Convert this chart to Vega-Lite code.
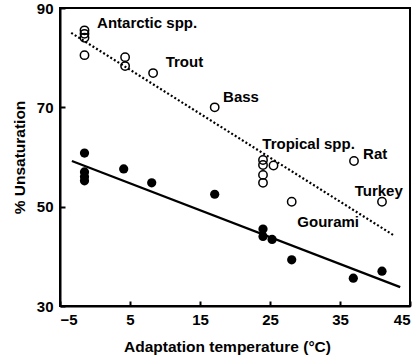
{
  "$schema": "https://vega.github.io/schema/vega-lite/v6.json",
  "width": 350,
  "height": 298,
  "autosize": {"type": "none"},
  "padding": {"left": 60, "top": 8, "right": 9, "bottom": 52},
  "background": "white",
  "config": {
    "view": {"stroke": "black", "strokeWidth": 2},
    "font": "Liberation Sans",
    "axis": {
      "grid": false,
      "domainColor": "black",
      "domainWidth": 2,
      "tickColor": "black",
      "tickWidth": 2,
      "tickSize": -5,
      "labelFont": "Liberation Sans",
      "labelFontWeight": "bold",
      "labelFontSize": 15,
      "labelColor": "black",
      "titleFont": "Liberation Sans",
      "titleFontWeight": "bold",
      "titleFontSize": 15.5,
      "titleColor": "black"
    }
  },
  "datasets": {
    "pts": [
      {"t": -1.5, "u": 85.5, "kind": "open"},
      {"t": -1.5, "u": 84.8, "kind": "open"},
      {"t": -1.5, "u": 84.0, "kind": "open"},
      {"t": -1.5, "u": 80.5, "kind": "open"},
      {"t": 4.3, "u": 80.1, "kind": "open"},
      {"t": 4.3, "u": 78.3, "kind": "open"},
      {"t": 8.3, "u": 76.9, "kind": "open"},
      {"t": 17.1, "u": 70.0, "kind": "open"},
      {"t": 24.0, "u": 59.4, "kind": "open"},
      {"t": 24.0, "u": 58.4, "kind": "open"},
      {"t": 24.0, "u": 56.4, "kind": "open"},
      {"t": 24.0, "u": 54.8, "kind": "open"},
      {"t": 25.5, "u": 58.3, "kind": "open"},
      {"t": 28.1, "u": 51.0, "kind": "open"},
      {"t": 37.0, "u": 59.2, "kind": "open"},
      {"t": 41.0, "u": 51.0, "kind": "open"},
      {"t": -1.5, "u": 60.8, "kind": "filled"},
      {"t": -1.5, "u": 57.0, "kind": "filled"},
      {"t": -1.5, "u": 56.0, "kind": "filled"},
      {"t": -1.5, "u": 55.2, "kind": "filled"},
      {"t": 4.1, "u": 57.6, "kind": "filled"},
      {"t": 8.1, "u": 54.8, "kind": "filled"},
      {"t": 17.1, "u": 52.5, "kind": "filled"},
      {"t": 24.0, "u": 45.5, "kind": "filled"},
      {"t": 24.0, "u": 44.0, "kind": "filled"},
      {"t": 25.3, "u": 43.4, "kind": "filled"},
      {"t": 28.1, "u": 39.3, "kind": "filled"},
      {"t": 36.9, "u": 35.6, "kind": "filled"},
      {"t": 41.0, "u": 37.0, "kind": "filled"}
    ],
    "fits": [
      {"t": -3.4, "u": 85.0, "fit": "unsaturated"},
      {"t": 42.6, "u": 44.3, "fit": "unsaturated"},
      {"t": -3.3, "u": 59.2, "fit": "saturated"},
      {"t": 43.6, "u": 33.8, "fit": "saturated"}
    ],
    "labels": [
      {"t": 0.3, "u": 87.0, "name": "Antarctic spp."},
      {"t": 10.1, "u": 79.1, "name": "Trout"},
      {"t": 18.3, "u": 72.1, "name": "Bass"},
      {"t": 23.9, "u": 62.6, "name": "Tropical spp."},
      {"t": 38.3, "u": 60.6, "name": "Rat"},
      {"t": 37.1, "u": 53.2, "name": "Turkey"},
      {"t": 28.9, "u": 46.9, "name": "Gourami"}
    ]
  },
  "encoding": {
    "x": {
      "field": "t", "type": "quantitative",
      "scale": {"domain": [-5, 45], "nice": false, "zero": false},
      "axis": {"values": [-5, 5, 15, 25, 35, 45], "title": "Adaptation temperature (°C)", "labelPadding": 11, "titlePadding": 12, "titleX": 167}
    },
    "y": {
      "field": "u", "type": "quantitative",
      "scale": {"domain": [30, 90], "nice": false, "zero": false},
      "axis": {"values": [30, 50, 70, 90], "title": "% Unsaturation", "labelPadding": 12, "titlePadding": 9}
    }
  },
  "layer": [
    {
      "data": {"name": "fits"},
      "transform": [{"filter": "datum.fit === 'unsaturated'"}],
      "mark": {"type": "line", "color": "black", "strokeWidth": 2.2, "strokeDash": [2, 2.2]},
      "encoding": {}
    },
    {
      "data": {"name": "fits"},
      "transform": [{"filter": "datum.fit === 'saturated'"}],
      "mark": {"type": "line", "color": "black", "strokeWidth": 2.2},
      "encoding": {}
    },
    {
      "data": {"name": "pts"},
      "transform": [{"filter": "datum.kind === 'open'"}],
      "mark": {"type": "point", "shape": "circle", "size": 70, "filled": false, "stroke": "black", "strokeWidth": 1.5, "opacity": 1}
    },
    {
      "data": {"name": "pts"},
      "transform": [{"filter": "datum.kind === 'filled'"}],
      "mark": {"type": "point", "shape": "circle", "size": 85, "filled": true, "fill": "black", "opacity": 1}
    },
    {
      "data": {"name": "labels"},
      "mark": {"type": "text", "align": "left", "baseline": "middle", "font": "Liberation Sans", "fontWeight": "bold", "fontSize": 15, "color": "black"},
      "encoding": {"text": {"field": "name"}}
    }
  ]
}
